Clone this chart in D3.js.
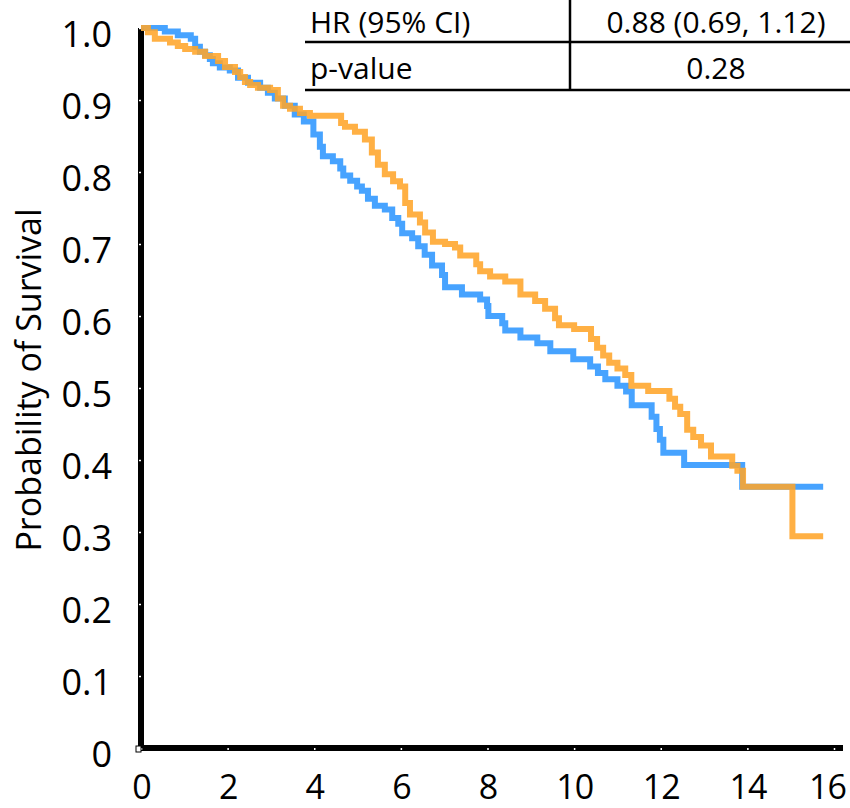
<!DOCTYPE html>
<html>
<head>
<meta charset="utf-8">
<script src="https://cdn.jsdelivr.net/npm/d3@7"></script>
<style>
  body { margin: 0; background: #fff; }
  svg { display: block; }
</style>
</head>
<body>
<div id="chart"></div>
<script>
// Kaplan-Meier step data (time in years, survival probability)
const blueTime = [0, 0.55, 0.85, 1.15, 1.25, 1.36, 1.48, 1.59, 1.66, 1.82, 2.05, 2.24, 2.47, 2.75, 2.93, 3.09, 3.32, 3.55, 3.76, 3.98,
  4.13, 4.20, 4.43, 4.60, 4.67, 4.83, 4.99, 5.10, 5.24, 5.40, 5.63, 5.80, 5.94, 6.03, 6.26, 6.40, 6.55, 6.72, 6.95, 7.02,
  7.41, 7.83, 7.99, 8.02, 8.34, 8.41, 8.76, 9.15, 9.45, 9.98, 10.37, 10.55, 10.72, 11.00, 11.20, 11.33, 11.79, 11.90, 11.98, 12.06,
  12.54, 13.88];
const blueSurv = [1.000, 0.995, 0.990, 0.985, 0.974, 0.967, 0.962, 0.957, 0.951, 0.945, 0.941, 0.931, 0.924, 0.917, 0.910, 0.902, 0.892, 0.880, 0.870, 0.852,
  0.835, 0.822, 0.815, 0.805, 0.795, 0.788, 0.780, 0.774, 0.763, 0.753, 0.748, 0.736, 0.728, 0.715, 0.708, 0.697, 0.685, 0.670, 0.657, 0.640,
  0.630, 0.623, 0.614, 0.600, 0.590, 0.580, 0.570, 0.562, 0.551, 0.540, 0.530, 0.521, 0.512, 0.503, 0.495, 0.476, 0.460, 0.443, 0.428, 0.410,
  0.393, 0.363];
const blueEnd = 15.75;

const orangeTime = [0, 0.16, 0.32, 0.67, 0.85, 1.02, 1.25, 1.48, 1.78, 1.94, 2.17, 2.29, 2.40, 2.52, 2.70, 2.98, 3.16, 3.28, 3.44, 3.67,
  3.90, 4.62, 4.71, 4.94, 5.17, 5.33, 5.47, 5.63, 5.82, 5.98, 6.10, 6.21, 6.44, 6.56, 6.74, 7.02, 7.25, 7.37, 7.74, 7.83,
  8.06, 8.41, 8.76, 9.10, 9.33, 9.56, 9.65, 10.00, 10.39, 10.53, 10.67, 10.81, 11.00, 11.18, 11.32, 11.71, 12.20, 12.33, 12.45, 12.61,
  12.75, 12.93, 13.16, 13.65, 13.77, 13.90, 15.04];
const orangeSurv = [1.000, 0.994, 0.985, 0.980, 0.975, 0.971, 0.967, 0.961, 0.954, 0.946, 0.939, 0.932, 0.925, 0.921, 0.917, 0.914, 0.902, 0.892, 0.888, 0.882,
  0.878, 0.868, 0.863, 0.856, 0.845, 0.827, 0.810, 0.797, 0.787, 0.780, 0.757, 0.741, 0.730, 0.716, 0.703, 0.700, 0.695, 0.684, 0.672, 0.662,
  0.655, 0.648, 0.630, 0.621, 0.610, 0.597, 0.587, 0.582, 0.568, 0.556, 0.545, 0.535, 0.527, 0.518, 0.503, 0.496, 0.485, 0.474, 0.464, 0.442,
  0.432, 0.420, 0.405, 0.392, 0.385, 0.363, 0.294];
const orangeEnd = 15.75;

const xTicks = [0, 2, 4, 6, 8, 10, 12, 14, 16];
const yTicks = [0, 0.1, 0.2, 0.3, 0.4, 0.5, 0.6, 0.7, 0.8, 0.9, 1.0];
const yLabel = "Probability of Survival";

const tableLabels = ["HR (95% CI)", "p-value"];
const tableValues = ["0.88 (0.69, 1.12)", "0.28"];

const width = 850, height = 808;
const font = "'Open Sans', sans-serif";

const svg = d3.select("#chart").append("svg")
    .attr("width", width)
    .attr("height", height);

const x = d3.scaleLinear().domain([0, 16]).range([141, 834]);
const y = d3.scaleLinear().domain([0, 1]).range([748, 28]);

// Axes
const yAxis = d3.axisLeft(y)
    .tickValues(yTicks)
    .tickFormat(d => d === 0 ? "0" : d3.format(".1f")(d))
    .tickSize(2)
    .tickSizeOuter(0)
    .tickPadding(27);

const xAxis = d3.axisBottom(x)
    .tickValues(xTicks)
    .tickFormat(d3.format("d"))
    .tickSize(2)
    .tickSizeOuter(0)
    .tickPadding(25);

const gy = svg.append("g").attr("transform", `translate(${x(0)},0)`).call(yAxis);
const gx = svg.append("g").attr("transform", `translate(0,${y(0)})`).call(xAxis);

gy.select(".domain").remove();
gx.select(".domain").remove();

// thick axis lines
svg.append("line")
    .attr("x1", x(0)).attr("x2", x(0))
    .attr("y1", y(1)).attr("y2", y(0) + 3)
    .attr("stroke", "#000").attr("stroke-width", 6);
svg.append("line")
    .attr("x1", x(0)).attr("x2", 843)
    .attr("y1", y(0)).attr("y2", y(0))
    .attr("stroke", "#000").attr("stroke-width", 6);

// little white notches for ticks, on top of the axis lines
gy.raise();
gx.raise();
svg.selectAll(".tick line").attr("stroke", "#fff").attr("stroke-width", 1.5);
svg.selectAll(".tick text")
    .style("font-family", font)
    .attr("fill", "#000");
gy.selectAll(".tick text").style("font-size", "36px").attr("dy", "0.52em");
gx.selectAll(".tick text")
    .style("font-size", "34px")
    .attr("letter-spacing", "-1px")
    .attr("dx", d => d === 16 ? -7 : 0);   // keep last label inside the page

// origin marker
svg.append("rect")
    .attr("x", x(0) - 5).attr("y", y(0) - 2)
    .attr("width", 5).attr("height", 6)
    .attr("fill", "#fff").attr("stroke", "#000").attr("stroke-width", 1);

// y axis label
svg.append("text")
    .attr("transform", `translate(41,${380}) rotate(-90)`)
    .attr("text-anchor", "middle")
    .style("font-family", font)
    .style("font-size", "34px")
    .text(yLabel);

// survival curves
const line = d3.line()
    .x(d => x(d[0]))
    .y(d => y(d[1]))
    .curve(d3.curveStepAfter);

function steps(times, surv, end) {
    const pts = times.map((t, i) => [t, surv[i]]);
    pts.push([end, surv[surv.length - 1]]);
    return pts;
}

svg.append("path")
    .datum(steps(blueTime, blueSurv, blueEnd))
    .attr("fill", "none")
    .attr("stroke", "#3399ff")
    .attr("stroke-opacity", 0.9)
    .attr("stroke-width", 6)
    .attr("d", line);

svg.append("path")
    .datum(steps(orangeTime, orangeSurv, orangeEnd))
    .attr("fill", "none")
    .attr("stroke", "#ffa52a")
    .attr("stroke-opacity", 0.88)
    .attr("stroke-width", 6)
    .attr("d", line);

// HR table, top right
const table = svg.append("g");
const rowLines = [42, 90];
table.selectAll("line.row")
    .data(rowLines)
    .enter().append("line")
    .attr("x1", 305).attr("x2", width)
    .attr("y1", d => d).attr("y2", d => d)
    .attr("stroke", "#000").attr("stroke-width", 2.5);
table.append("line")
    .attr("x1", 570).attr("x2", 570)
    .attr("y1", 0).attr("y2", 90)
    .attr("stroke", "#000").attr("stroke-width", 2.5);

table.selectAll("text.lab")
    .data(tableLabels)
    .enter().append("text")
    .attr("x", 310)
    .attr("y", (d, i) => 33 + i * 46)
    .style("font-family", font)
    .style("font-size", "30px")
    .text(d => d);

table.selectAll("text.val")
    .data(tableValues)
    .enter().append("text")
    .attr("x", 716)
    .attr("y", (d, i) => 33 + i * 46)
    .attr("text-anchor", "middle")
    .style("font-family", font)
    .style("font-size", "30px")
    .text(d => d);
</script>
</body>
</html>
